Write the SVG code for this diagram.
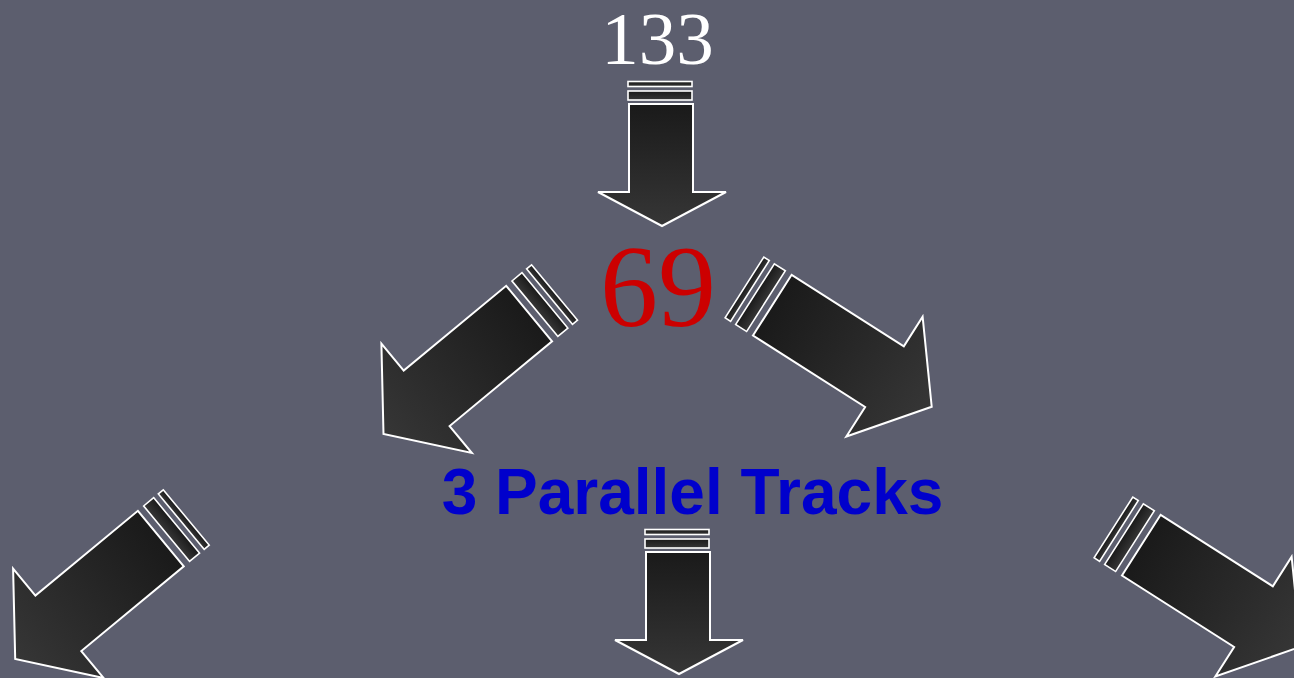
<svg xmlns="http://www.w3.org/2000/svg" width="1294" height="678" viewBox="0 0 1294 678">
<style>
.arr{fill:url(#g);stroke:#ffffff;stroke-width:2;stroke-linejoin:miter}
.bar{fill:url(#g);stroke:#ffffff;stroke-width:1.6}
.n133{font-family:"Liberation Serif",serif;font-size:75px;fill:#ffffff}
.n69{font-family:"Liberation Serif",serif;font-size:116px;fill:#cc0000}
.lbl{font-family:"Liberation Sans",Arial,sans-serif;font-weight:bold;font-size:64px;fill:#0000cc}
</style>
<defs>
<linearGradient id="g" x1="0" y1="0" x2="0" y2="1">
<stop offset="0" stop-color="#1a1a1a"/>
<stop offset="1" stop-color="#363636"/>
</linearGradient>
<g id="down">
<rect class="bar" x="-34" y="-144.5" width="64" height="5"/>
<rect class="bar" x="-34" y="-135" width="64" height="9"/>
<polygon class="arr" points="-33,-122 31,-122 31,-34 64,-34 0,0 -64,-34 -33,-34"/>
</g>
<g id="diag">
<rect class="bar" x="-36" y="-222" width="72" height="6.5"/>
<rect class="bar" x="-36" y="-209.5" width="72" height="13"/>
<polygon class="arr" points="-36,-189 36,-189 36,-56 71,-56 0,0 -71,-56 -36,-56"/>
</g>
</defs>
<rect width="1294" height="678" fill="#5c5e6e"/>
<g id="connectors">
<use href="#down" transform="translate(662,226)"/>
<use href="#diag" transform="translate(383.5,434) rotate(50.4)"/>
<use href="#diag" transform="translate(931.7,406.7) rotate(-57.5)"/>
<use href="#diag" transform="translate(15.2,659) rotate(50.4)"/>
<use href="#down" transform="translate(679,674)"/>
<use href="#diag" transform="translate(1300.7,646.7) rotate(-57.5)"/>
</g>
<g id="node-133"><text class="n133" x="657.5" y="64" text-anchor="middle">133</text></g>
<g id="node-69"><text class="n69" x="658" y="326" text-anchor="middle">69</text></g>
<g id="node-tracks"><text class="lbl" x="692.5" y="514" text-anchor="middle">3 Parallel Tracks</text></g>
</svg>
